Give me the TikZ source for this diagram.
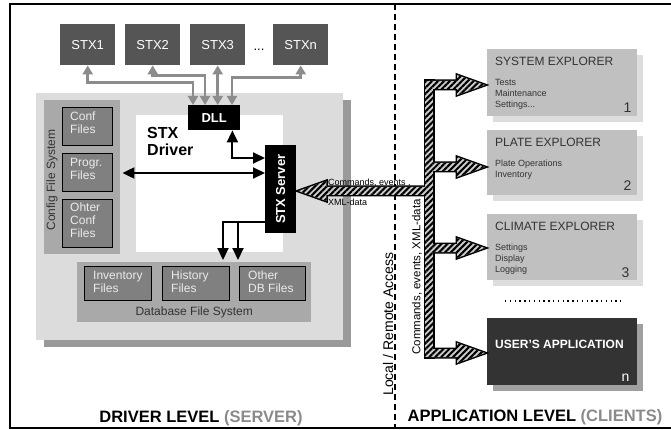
\documentclass[tikz,border=0pt]{standalone}
\usepackage{fontspec}
\setmainfont{Liberation Sans}
\usetikzlibrary{calc,positioning,arrows.meta,shadows,patterns.meta}

\definecolor{stxgray}{HTML}{555555}
\definecolor{panelgray}{HTML}{DCDCDC}
\definecolor{panelshadow}{HTML}{9A9A9A}
\definecolor{fsgray}{HTML}{A9A9A9}
\definecolor{filegray}{HTML}{808080}
\definecolor{filetext}{HTML}{EBEBEB}
\definecolor{clientgray}{HTML}{C0C0C0}
\definecolor{clientshadow}{HTML}{DDDDDD}
\definecolor{userdark}{HTML}{333333}
\definecolor{usershadow}{HTML}{A0A0A0}
\definecolor{busgray}{HTML}{8C8C8C}
\definecolor{labelgray}{HTML}{8A8A8A}
\definecolor{inkgray}{HTML}{333333}

\newcommand{\sizept}[2]{\fontsize{#1}{#2}\selectfont}

%% horizontal hatched arrow: style, start, target, direction (1 right, -1 left)
\newcommand{\hatcharrow}[4]{%
  \path[#1] let \p1=(#2), \p2=(#3) in
    (\x1,{\y1+4pt}) -- ({\x2-(#4)*30pt},{\y1+4pt}) -- ({\x2-(#4)*30pt},{\y1+10pt})
    -- ({\x2-(#4)*2pt},\y1) -- ({\x2-(#4)*30pt},{\y1-10pt}) -- ({\x2-(#4)*30pt},{\y1-4pt})
    -- (\x1,{\y1-4pt}) -- cycle;}

\begin{document}
\begin{tikzpicture}[x=1pt,y=-1pt,
stxbox/.style={fill=stxgray, text=white, minimum width=55pt, minimum height=41pt, inner sep=0pt, font=\sizept{13}{15}},
blackbox/.style={fill=black, text=white, inner sep=0pt, font=\bfseries\sizept{13}{15}},
panel/.style={anchor=north west, inner sep=0pt},
filebox/.style={draw=black, fill=filegray, text=filetext, anchor=north west, inner sep=0pt, font=\sizept{12}{13}},
filetext/.style={anchor=north west, align=left, inner sep=0pt, text=filetext, font=\sizept{12}{13}},
client/.style={fill=clientgray, minimum width=150pt, anchor=north west, inner sep=0pt,
  drop shadow={shadow xshift=6pt, shadow yshift=-6pt, fill=clientshadow, opacity=1}},
ctitle/.style={anchor=west, inner sep=0pt, text=inkgray, font=\sizept{12}{14}},
citems/.style={anchor=north west, align=left, inner sep=0pt, text=inkgray, font=\sizept{9}{11}},
cnum/.style={inner sep=0pt, text=inkgray, font=\sizept{14}{16}},
busarrow/.style={busgray, line width=2.5pt, {Triangle[length=9pt,width=10pt]}-{Triangle[length=9pt,width=10pt]}},
ctrlarrow/.style={black, line width=2pt},
hatch line/.style={draw=black, line width=3pt},
hatch fill/.style={preaction={fill=gray!40}, pattern={Lines[angle=45,distance=4.2pt,line width=2.1pt]}, pattern color=black},
info/.style={inner sep=0pt}]

\useasboundingbox (0,0) rectangle (671,430);

%% frame and level separator
\draw[line width=1.5pt] (671,4) -- (10,4) -- (10,428) -- (671,428);
\draw[line width=1.5pt, dash pattern=on 6pt off 4pt] (395,4) -- (395,428);

%% driver panel
\node[panel, fill=panelgray, minimum width=307pt, minimum height=247pt,
  drop shadow={shadow xshift=8pt, shadow yshift=-7pt, fill=panelshadow, opacity=1}] (drv) at (36,93) {};
\node[panel, fill=white, minimum width=147pt, minimum height=137pt] (core) at (136,115) {};
\node[info, anchor=north west, align=left, font=\bfseries\sizept{16}{17}] (drv-label) at (147,127) {STX\\Driver};

%% config file system
\node[panel, fill=fsgray, minimum width=76pt, minimum height=154pt] (cfs) at (44,100) {};
\node[info, rotate=90, text=inkgray, font=\sizept{12}{14}] (cfs-label) at (52,180) {Config File System};
\node[filebox, minimum width=50pt, minimum height=38pt] (conf) at (62,107) {};
\node[filebox, minimum width=50pt, minimum height=38pt] (progr) at (62,153) {};
\node[filebox, minimum width=50pt, minimum height=48pt] (ohter) at (62,199) {};
\node[filetext] at ($(conf.north west)+(8,5)$) {Conf\\Files};
\node[filetext] at ($(progr.north west)+(8,5)$) {Progr.\\Files};
\node[filetext] at ($(ohter.north west)+(8,4)$) {Ohter\\Conf\\Files};

%% database file system
\node[panel, fill=fsgray, minimum width=234pt, minimum height=60pt] (dbfs) at (77,262) {};
\node[info, text=inkgray, font=\sizept{12}{14}] (dbfs-label) at ($(dbfs.south)+(0,-10)$) {Database File System};
\node[filebox, minimum width=67pt, minimum height=34pt] (inv) at (84,266) {};
\node[filebox, minimum width=67pt, minimum height=34pt] (hist) at (162,266) {};
\node[filebox, minimum width=66pt, minimum height=34pt] (otherdb) at (239,266) {};
\node[filetext] at ($(inv.north west)+(9,5)$) {Inventory\\Files};
\node[filetext] at ($(hist.north west)+(9,5)$) {History\\Files};
\node[filetext] at ($(otherdb.north west)+(9,5)$) {Other\\DB Files};

%% devices
\foreach \n/\t/\x in {1/STX1/60, 2/STX2/125, 3/STX3/190, n/STXn/273}
      \node[stxbox, anchor=north west] (stx-\n) at (\x,24) {\t};
\node[info, font=\sizept{13}{15}] (dots) at (259,50) {...};

%% dll and server
\node[blackbox, anchor=north west, minimum width=52pt, minimum height=25pt] (dll) at (188,105) {DLL};
\node[blackbox, anchor=north west, minimum width=31pt, minimum height=88pt] (srv) at (265,145) {};
\node[info, rotate=90, text=white, font=\bfseries\sizept{13}{15}] (srv-label) at (srv.center) {STX Server};

%% device bus
\draw[busarrow] (stx-1.south) -- ++(0,17) -| ($(dll.north west)+(5,0)$);
\draw[busarrow] (stx-2.south) -- ++(0,10) -| ($(dll.north west)+(17,0)$);
\draw[busarrow] (stx-3.south) -- (stx-3.south |- dll.north);
\draw[busarrow] (stx-n.south) -- ++(0,12) -| ($(dll.north west)+(44,0)$);

%% driver internal connections
\coordinate (srv-dll) at ($(srv.north west)+(0,13)$);
\coordinate (srv-in) at ($(srv.north west)+(0,28)$);
\coordinate (srv-out) at ($(srv.south west)+(0,-11)$);
\coordinate (db-in1) at ($(dbfs.north west)+(146,-2)$);
\coordinate (db-in2) at ($(dbfs.north west)+(161,-2)$);
\draw[ctrlarrow, {Triangle[length=12pt,width=11pt]}-{Triangle[length=12pt,width=11pt]}]
      ($(dll.south east)+(-8,0)$) |- (srv-dll);
\draw[ctrlarrow, {Triangle[length=12pt,width=11pt]}-{Triangle[length=12pt,width=11pt]}]
      ($(cfs.east |- srv-in)+(2,0)$) -- (srv-in);
\draw[ctrlarrow, -{Triangle[length=12pt,width=11pt]}] (srv-out) -| (db-in1);
\draw[ctrlarrow, -{Triangle[length=12pt,width=11pt]}] (db-in2 |- srv-out) -- (db-in2);

%% clients
\node[client, minimum height=67pt] (sysexp) at (487,49) {};
\node[client, minimum height=65pt] (plate) at (487,130) {};
\node[client, minimum height=66pt] (climate) at (487,214) {};
\node[client, minimum height=67pt, fill=userdark,
  drop shadow={shadow xshift=6pt, shadow yshift=-6pt, fill=usershadow, opacity=1}] (user) at (487,318) {};

\node[ctitle] (sysexp-title) at ($(sysexp.north west)+(8,12)$) {SYSTEM EXPLORER};
\node[citems] (sysexp-items) at ($(sysexp.north west)+(8,30)$) {Tests\\Maintenance\\Settings...};
\node[cnum] (sysexp-num) at ($(sysexp.south east)+(-10,-9)$) {1};

\node[ctitle] (plate-title) at ($(plate.north west)+(8,12)$) {PLATE EXPLORER};
\node[citems] (plate-items) at ($(plate.north west)+(8,30)$) {Plate Operations\\Inventory};
\node[cnum] (plate-num) at ($(plate.south east)+(-10,-10)$) {2};

\node[ctitle] (climate-title) at ($(climate.north west)+(8,12)$) {CLIMATE EXPLORER};
\node[citems] (climate-items) at ($(climate.north west)+(8,30)$) {Settings\\Display\\Logging};
\node[cnum] (climate-num) at ($(climate.south east)+(-12,-8)$) {3};

\node[ctitle, text=white, font=\bfseries\sizept{12}{14}] (user-title) at ($(user.north west)+(8,26)$) {USER'S APPLICATION};
\node[cnum, text=white] (user-num) at ($(user.south east)+(-12,-8)$) {n};

\draw[line width=1.3pt, dash pattern=on 1.3pt off 3.5pt] (505,301) -- (621,301);

%% access bus (hatched)
\coordinate (bus-top) at (429,81);
\coordinate (bus-bot) at (429,357);
\coordinate (tap-0) at (429,191);
\coordinate (tap-1) at (429,85);
\coordinate (tap-2) at (429,167);
\coordinate (tap-3) at (429,248);
\coordinate (tap-4) at (429,353);

\foreach \st in {hatch line, hatch fill} {
  \path[\st] ($(bus-top)+(-4,0)$) rectangle ($(bus-bot)+(4,0)$);
  \hatcharrow{\st}{tap-0}{srv.east}{-1}
  \hatcharrow{\st}{tap-1}{sysexp.west |- tap-1}{1}
  \hatcharrow{\st}{tap-2}{plate.west |- tap-2}{1}
  \hatcharrow{\st}{tap-3}{climate.west |- tap-3}{1}
  \hatcharrow{\st}{tap-4}{user.west |- tap-4}{1}
}

%% bus labels
\node[info, anchor=west, font=\sizept{9}{10}] (cmd-label) at (328,183) {Commands, events ,};
\node[info, anchor=west, font=\sizept{9}{10}] (xml-label) at (328,202) {XML-data};
\node[info, rotate=90, font=\sizept{11.5}{13}] (bus-label) at (417,277) {Commands, events, XML-data};
\node[info, rotate=90, font=\sizept{14}{16}] (access-label) at (388,324) {Local / Remote Access};

%% level titles
\node[info, font=\bfseries\sizept{16.5}{18}] (drv-level) at (201,418) {DRIVER LEVEL \textcolor{labelgray}{(SERVER)}};
\node[info, font=\bfseries\sizept{16.5}{18}] (app-level) at (535,417) {APPLICATION LEVEL \textcolor{labelgray}{(CLIENTS)}};

\end{tikzpicture}
\end{document}
